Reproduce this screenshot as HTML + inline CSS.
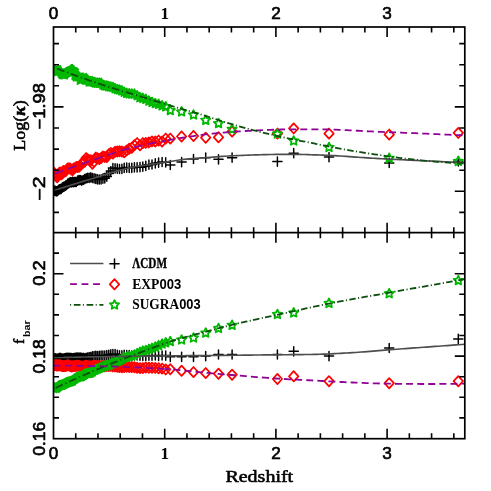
<!DOCTYPE html>
<html><head><meta charset="utf-8"><title>plot</title>
<style>html,body{margin:0;padding:0;background:#fff;}body{width:491px;height:491px;overflow:hidden;font-family:"Liberation Sans",sans-serif;}svg{display:block;will-change:transform;}</style></head>
<body>
<svg width="491" height="491" viewBox="0 0 491 491">
<rect width="491" height="491" fill="#ffffff"/>
<defs>
<clipPath id="ct"><rect x="53.5" y="27.0" width="411.3" height="205.7"/></clipPath>
<clipPath id="cb"><rect x="53.5" y="232.7" width="411.3" height="206.0"/></clipPath>
</defs>
<g clip-path="url(#ct)">
<path d="M48.9,190.9H58.1M53.5,186.3V195.5M49.8,190.6H59.0M54.4,186.0V195.2M50.7,190.8H59.9M55.3,186.2V195.4M51.7,191.4H60.9M56.3,186.8V196.0M52.6,191.1H61.8M57.2,186.5V195.7M53.6,190.3H62.8M58.2,185.7V194.9M54.6,189.4H63.8M59.2,184.8V194.0M55.6,189.1H64.8M60.2,184.5V193.7M56.6,188.8H65.8M61.2,184.2V193.4M57.6,187.7H66.8M62.2,183.1V192.3M58.7,186.9H67.9M63.3,182.3V191.5M59.8,186.5H69.0M64.4,181.9V191.1M60.9,185.7H70.1M65.5,181.1V190.3M62.0,185.0H71.2M66.6,180.4V189.6M63.1,183.6H72.3M67.7,179.0V188.2M64.3,183.2H73.5M68.9,178.6V187.8M65.5,182.2H74.7M70.1,177.6V186.8M66.7,182.3H75.9M71.3,177.7V186.9M67.9,181.8H77.1M72.5,177.2V186.4M69.1,182.1H78.3M73.7,177.5V186.7M70.4,181.9H79.6M75.0,177.3V186.5M71.7,182.0H80.9M76.3,177.4V186.6M73.0,180.7H82.2M77.6,176.1V185.3M74.4,180.2H83.6M79.0,175.6V184.8M75.7,180.0H84.9M80.3,175.4V184.6M77.1,180.7H86.3M81.7,176.1V185.3M78.6,180.0H87.8M83.2,175.4V184.6M80.0,179.2H89.2M84.6,174.6V183.8M81.5,178.3H90.7M86.1,173.7V182.9M83.0,177.9H92.2M87.6,173.3V182.5M84.6,177.9H93.8M89.2,173.3V182.5M86.2,177.4H95.4M90.8,172.8V182.0M87.8,178.0H97.0M92.4,173.4V182.6M89.5,178.3H98.7M94.1,173.7V182.9M91.2,178.9H100.4M95.8,174.3V183.5M92.9,179.4H102.1M97.5,174.8V184.0M94.7,179.5H103.9M99.3,174.9V184.1M96.5,179.4H105.7M101.1,174.8V184.0M98.3,178.7H107.5M102.9,174.1V183.3M100.2,178.3H109.4M104.8,173.7V182.9M102.2,176.6H111.4M106.8,172.0V181.2M104.2,173.6H113.4M108.8,169.0V178.2M106.2,171.0H115.4M110.8,166.4V175.6M108.3,168.0H117.5M112.9,163.4V172.6M110.5,168.3H119.7M115.1,163.7V172.9M112.7,168.7H121.9M117.3,164.1V173.3M114.9,169.0H124.1M119.5,164.4V173.6M117.3,168.8H126.5M121.9,164.2V173.4M119.6,167.9H128.8M124.2,163.3V172.5M122.1,167.6H131.3M126.7,163.0V172.2M124.6,167.8H133.8M129.2,163.2V172.4M127.2,167.8H136.4M131.8,163.2V172.4M129.8,167.3H139.0M134.4,162.7V171.9M132.5,167.3H141.7M137.1,162.7V171.9M135.4,167.2H144.6M140.0,162.6V171.8M138.2,166.6H147.4M142.8,162.0V171.2M141.2,165.9H150.4M145.8,161.3V170.5M144.3,164.7H153.5M148.9,160.1V169.3M147.4,164.5H156.6M152.0,159.9V169.1M150.7,163.4H159.9M155.3,158.8V168.0M154.0,162.7H163.2M158.6,158.1V167.3M157.5,162.0H166.7M162.1,157.4V166.6M161.1,162.3H170.3M165.7,157.7V166.9M165.7,165.0H174.9M170.3,160.4V169.6M177.0,162.1H186.2M181.6,157.5V166.7M188.9,159.0H198.1M193.5,154.4V163.6M201.1,157.7H210.3M205.7,153.1V162.3M213.9,159.3H223.1M218.5,154.7V163.9M227.5,157.7H236.7M232.1,153.1V162.3M272.8,161.6H282.0M277.4,157.0V166.2M289.1,153.2H298.3M293.7,148.6V157.8M324.4,157.1H333.6M329.0,152.5V161.7M384.6,163.0H393.8M389.2,158.4V167.6M453.7,161.3H462.9M458.3,156.7V165.9" stroke="#000000" stroke-width="1.5" fill="none" stroke-linejoin="miter" stroke-linecap="round"/>
<path d="M53.5,169.7L58.2,174.8L53.5,179.9L48.8,174.8ZM54.4,167.9L59.1,173.0L54.4,178.1L49.7,173.0ZM55.3,169.8L60.0,174.9L55.3,180.0L50.6,174.9ZM56.3,171.5L61.0,176.6L56.3,181.7L51.6,176.6ZM57.2,172.1L61.9,177.2L57.2,182.3L52.5,177.2ZM58.2,169.6L62.9,174.7L58.2,179.8L53.5,174.7ZM59.2,167.8L63.9,172.9L59.2,178.0L54.5,172.9ZM60.2,167.4L64.9,172.5L60.2,177.6L55.5,172.5ZM61.2,169.3L65.9,174.4L61.2,179.5L56.5,174.4ZM62.2,168.6L66.9,173.7L62.2,178.8L57.5,173.7ZM63.3,165.9L68.0,171.0L63.3,176.1L58.6,171.0ZM64.4,166.4L69.1,171.5L64.4,176.6L59.7,171.5ZM65.5,166.2L70.2,171.3L65.5,176.4L60.8,171.3ZM66.6,165.0L71.3,170.1L66.6,175.2L61.9,170.1ZM67.7,163.3L72.4,168.4L67.7,173.5L63.0,168.4ZM68.9,163.1L73.6,168.2L68.9,173.3L64.2,168.2ZM70.1,163.4L74.8,168.5L70.1,173.6L65.4,168.5ZM71.3,164.4L76.0,169.5L71.3,174.6L66.6,169.5ZM72.5,165.3L77.2,170.4L72.5,175.5L67.8,170.4ZM73.7,163.3L78.4,168.4L73.7,173.5L69.0,168.4ZM75.0,162.8L79.7,167.9L75.0,173.0L70.3,167.9ZM76.3,161.8L81.0,166.9L76.3,172.0L71.6,166.9ZM77.6,161.8L82.3,166.9L77.6,172.0L72.9,166.9ZM79.0,161.7L83.7,166.8L79.0,171.9L74.3,166.8ZM80.3,160.5L85.0,165.6L80.3,170.7L75.6,165.6ZM81.7,158.4L86.4,163.5L81.7,168.6L77.0,163.5ZM83.2,157.6L87.9,162.7L83.2,167.8L78.5,162.7ZM84.6,156.6L89.3,161.7L84.6,166.8L79.9,161.7ZM86.1,153.0L90.8,158.1L86.1,163.2L81.4,158.1ZM87.6,154.2L92.3,159.3L87.6,164.4L82.9,159.3ZM89.2,155.1L93.9,160.2L89.2,165.3L84.5,160.2ZM90.8,155.2L95.5,160.3L90.8,165.4L86.1,160.3ZM92.4,158.6L97.1,163.7L92.4,168.8L87.7,163.7ZM94.1,156.7L98.8,161.8L94.1,166.9L89.4,161.8ZM95.8,152.5L100.5,157.6L95.8,162.7L91.1,157.6ZM97.5,153.2L102.2,158.3L97.5,163.4L92.8,158.3ZM99.3,154.0L104.0,159.1L99.3,164.2L94.6,159.1ZM101.1,152.9L105.8,158.0L101.1,163.1L96.4,158.0ZM102.9,151.3L107.6,156.4L102.9,161.5L98.2,156.4ZM104.8,151.8L109.5,156.9L104.8,162.0L100.1,156.9ZM106.8,152.0L111.5,157.1L106.8,162.2L102.1,157.1ZM108.8,149.2L113.5,154.3L108.8,159.4L104.1,154.3ZM110.8,147.8L115.5,152.9L110.8,158.0L106.1,152.9ZM112.9,148.5L117.6,153.6L112.9,158.7L108.2,153.6ZM115.1,146.7L119.8,151.8L115.1,156.9L110.4,151.8ZM117.3,146.4L122.0,151.5L117.3,156.6L112.6,151.5ZM119.5,146.1L124.2,151.2L119.5,156.3L114.8,151.2ZM121.9,146.4L126.6,151.5L121.9,156.6L117.2,151.5ZM124.2,147.2L128.9,152.3L124.2,157.4L119.5,152.3ZM126.7,145.3L131.4,150.4L126.7,155.5L122.0,150.4ZM129.2,143.6L133.9,148.7L129.2,153.8L124.5,148.7ZM131.8,142.6L136.5,147.7L131.8,152.8L127.1,147.7ZM134.4,140.1L139.1,145.2L134.4,150.3L129.7,145.2ZM137.1,138.0L141.8,143.1L137.1,148.2L132.4,143.1ZM140.0,140.2L144.7,145.3L140.0,150.4L135.3,145.3ZM142.8,138.0L147.5,143.1L142.8,148.2L138.1,143.1ZM145.8,137.8L150.5,142.9L145.8,148.0L141.1,142.9ZM148.9,137.3L153.6,142.4L148.9,147.5L144.2,142.4ZM152.0,136.3L156.7,141.4L152.0,146.5L147.3,141.4ZM155.3,136.4L160.0,141.5L155.3,146.6L150.6,141.5ZM158.6,135.5L163.3,140.6L158.6,145.7L153.9,140.6ZM162.1,136.4L166.8,141.5L162.1,146.6L157.4,141.5ZM165.7,133.5L170.4,138.6L165.7,143.7L161.0,138.6ZM170.3,133.5L175.0,138.6L170.3,143.7L165.6,138.6ZM181.6,131.4L186.3,136.5L181.6,141.6L176.9,136.5ZM193.5,130.9L198.2,136.0L193.5,141.1L188.8,136.0ZM205.7,132.6L210.4,137.7L205.7,142.8L201.0,137.7ZM218.5,132.2L223.2,137.3L218.5,142.4L213.8,137.3ZM232.1,126.5L236.8,131.6L232.1,136.7L227.4,131.6ZM277.4,128.5L282.1,133.6L277.4,138.7L272.7,133.6ZM293.7,123.3L298.4,128.4L293.7,133.5L289.0,128.4ZM329.0,128.5L333.7,133.6L329.0,138.7L324.3,133.6ZM389.2,129.5L393.9,134.6L389.2,139.7L384.5,134.6ZM458.3,127.8L463.0,132.9L458.3,138.0L453.6,132.9Z" stroke="#ff0000" stroke-width="1.7" fill="none" stroke-linejoin="round" stroke-linecap="round"/>
<path d="M53.5,65.1L54.9,68.0L58.1,68.4L55.8,70.7L56.3,73.8L53.5,72.3L50.7,73.8L51.2,70.7L48.9,68.4L52.1,68.0ZM54.4,64.7L55.8,67.5L59.0,68.0L56.7,70.2L57.2,73.4L54.4,71.9L51.6,73.4L52.1,70.2L49.8,68.0L53.0,67.5ZM55.3,66.4L56.7,69.3L59.9,69.7L57.6,71.9L58.2,75.1L55.3,73.6L52.5,75.1L53.0,71.9L50.8,69.7L53.9,69.3ZM56.3,67.2L57.7,70.1L60.8,70.5L58.6,72.7L59.1,75.9L56.3,74.4L53.4,75.9L54.0,72.7L51.7,70.5L54.9,70.1ZM57.2,66.3L58.6,69.1L61.8,69.6L59.5,71.8L60.0,75.0L57.2,73.5L54.4,75.0L54.9,71.8L52.7,69.6L55.8,69.1ZM58.2,66.4L59.6,69.2L62.8,69.7L60.5,71.9L61.0,75.0L58.2,73.6L55.4,75.0L55.9,71.9L53.6,69.7L56.8,69.2ZM59.2,66.1L60.6,68.9L63.7,69.4L61.5,71.6L62.0,74.8L59.2,73.3L56.4,74.8L56.9,71.6L54.6,69.4L57.8,68.9ZM60.2,65.9L61.6,68.8L64.7,69.2L62.5,71.4L63.0,74.6L60.2,73.1L57.4,74.6L57.9,71.4L55.6,69.2L58.8,68.8ZM61.2,68.2L62.6,71.0L65.8,71.5L63.5,73.7L64.0,76.8L61.2,75.4L58.4,76.8L58.9,73.7L56.6,71.5L59.8,71.0ZM62.2,69.6L63.7,72.4L66.8,72.9L64.5,75.1L65.1,78.3L62.2,76.8L59.4,78.3L60.0,75.1L57.7,72.9L60.8,72.4ZM63.3,69.5L64.7,72.4L67.9,72.8L65.6,75.0L66.1,78.2L63.3,76.7L60.5,78.2L61.0,75.0L58.7,72.8L61.9,72.4ZM64.4,69.9L65.8,72.8L68.9,73.2L66.7,75.4L67.2,78.6L64.4,77.1L61.6,78.6L62.1,75.4L59.8,73.2L63.0,72.8ZM65.5,68.4L66.9,71.2L70.0,71.7L67.8,73.9L68.3,77.0L65.5,75.6L62.7,77.0L63.2,73.9L60.9,71.7L64.1,71.2ZM66.6,67.7L68.0,70.6L71.2,71.1L68.9,73.3L69.4,76.4L66.6,74.9L63.8,76.4L64.3,73.3L62.0,71.1L65.2,70.6ZM67.7,67.2L69.1,70.0L72.3,70.5L70.0,72.7L70.5,75.9L67.7,74.4L64.9,75.9L65.4,72.7L63.2,70.5L66.3,70.0ZM68.9,66.8L70.3,69.7L73.4,70.1L71.2,72.3L71.7,75.5L68.9,74.0L66.1,75.5L66.6,72.3L64.3,70.1L67.5,69.7ZM70.1,66.2L71.5,69.0L74.6,69.5L72.3,71.7L72.9,74.8L70.1,73.4L67.2,74.8L67.8,71.7L65.5,69.5L68.6,69.0ZM71.3,64.9L72.7,67.7L75.8,68.2L73.5,70.4L74.1,73.5L71.3,72.1L68.4,73.5L69.0,70.4L66.7,68.2L69.8,67.7ZM72.5,64.8L73.9,67.6L77.0,68.1L74.8,70.3L75.3,73.5L72.5,72.0L69.7,73.5L70.2,70.3L67.9,68.1L71.1,67.6ZM73.7,66.0L75.1,68.9L78.3,69.3L76.0,71.5L76.5,74.7L73.7,73.2L70.9,74.7L71.4,71.5L69.2,69.3L72.3,68.9ZM75.0,70.6L76.4,73.4L79.6,73.9L77.3,76.1L77.8,79.2L75.0,77.8L72.2,79.2L72.7,76.1L70.4,73.9L73.6,73.4ZM76.3,72.0L77.7,74.9L80.9,75.3L78.6,77.6L79.1,80.7L76.3,79.2L73.5,80.7L74.0,77.6L71.7,75.3L74.9,74.9ZM77.6,70.3L79.0,73.2L82.2,73.6L79.9,75.9L80.4,79.0L77.6,77.5L74.8,79.0L75.3,75.9L73.0,73.6L76.2,73.2ZM79.0,72.1L80.4,75.0L83.5,75.4L81.2,77.7L81.8,80.8L79.0,79.3L76.1,80.8L76.7,77.7L74.4,75.4L77.5,75.0ZM80.3,75.3L81.7,78.2L84.9,78.6L82.6,80.8L83.2,84.0L80.3,82.5L77.5,84.0L78.1,80.8L75.8,78.6L78.9,78.2ZM81.7,74.3L83.1,77.2L86.3,77.7L84.0,79.9L84.6,83.0L81.7,81.5L78.9,83.0L79.5,79.9L77.2,77.7L80.3,77.2ZM83.2,73.3L84.6,76.2L87.7,76.6L85.4,78.9L86.0,82.0L83.2,80.5L80.3,82.0L80.9,78.9L78.6,76.6L81.8,76.2ZM84.6,74.5L86.0,77.3L89.2,77.8L86.9,80.0L87.4,83.2L84.6,81.7L81.8,83.2L82.3,80.0L80.1,77.8L83.2,77.3ZM86.1,73.6L87.5,76.4L90.7,76.9L88.4,79.1L88.9,82.3L86.1,80.8L83.3,82.3L83.8,79.1L81.6,76.9L84.7,76.4ZM87.6,75.2L89.1,78.0L92.2,78.5L89.9,80.7L90.5,83.9L87.6,82.4L84.8,83.9L85.4,80.7L83.1,78.5L86.2,78.0ZM89.2,77.0L90.6,79.8L93.8,80.3L91.5,82.5L92.0,85.7L89.2,84.2L86.4,85.7L86.9,82.5L84.6,80.3L87.8,79.8ZM90.8,76.9L92.2,79.7L95.3,80.2L93.1,82.4L93.6,85.6L90.8,84.1L88.0,85.6L88.5,82.4L86.2,80.2L89.4,79.7ZM92.4,76.8L93.8,79.7L97.0,80.1L94.7,82.3L95.2,85.5L92.4,84.0L89.6,85.5L90.1,82.3L87.8,80.1L91.0,79.7ZM94.1,77.6L95.5,80.4L98.6,80.9L96.3,83.1L96.9,86.2L94.1,84.8L91.2,86.2L91.8,83.1L89.5,80.9L92.7,80.4ZM95.8,78.2L97.2,81.0L100.3,81.5L98.0,83.7L98.6,86.8L95.8,85.4L92.9,86.8L93.5,83.7L91.2,81.5L94.4,81.0ZM97.5,78.3L98.9,81.1L102.1,81.6L99.8,83.8L100.3,87.0L97.5,85.5L94.7,87.0L95.2,83.8L92.9,81.6L96.1,81.1ZM99.3,78.4L100.7,81.3L103.8,81.8L101.6,84.0L102.1,87.1L99.3,85.6L96.5,87.1L97.0,84.0L94.7,81.8L97.9,81.3ZM101.1,78.4L102.5,81.3L105.7,81.7L103.4,83.9L103.9,87.1L101.1,85.6L98.3,87.1L98.8,83.9L96.5,81.7L99.7,81.3ZM102.9,80.2L104.4,83.1L107.5,83.5L105.2,85.8L105.8,88.9L102.9,87.4L100.1,88.9L100.7,85.8L98.4,83.5L101.5,83.1ZM104.8,81.0L106.3,83.9L109.4,84.4L107.1,86.6L107.7,89.7L104.8,88.2L102.0,89.7L102.6,86.6L100.3,84.4L103.4,83.9ZM106.8,81.1L108.2,83.9L111.4,84.4L109.1,86.6L109.6,89.8L106.8,88.3L104.0,89.8L104.5,86.6L102.2,84.4L105.4,83.9ZM108.8,81.8L110.2,84.7L113.4,85.1L111.1,87.3L111.6,90.5L108.8,89.0L106.0,90.5L106.5,87.3L104.2,85.1L107.4,84.7ZM110.8,82.1L112.2,84.9L115.4,85.4L113.1,87.6L113.7,90.8L110.8,89.3L108.0,90.8L108.6,87.6L106.3,85.4L109.4,84.9ZM112.9,82.6L114.3,85.5L117.5,85.9L115.2,88.1L115.8,91.3L112.9,89.8L110.1,91.3L110.6,88.1L108.4,85.9L111.5,85.5ZM115.1,83.8L116.5,86.7L119.6,87.1L117.4,89.4L117.9,92.5L115.1,91.0L112.3,92.5L112.8,89.4L110.5,87.1L113.7,86.7ZM117.3,84.7L118.7,87.5L121.8,88.0L119.6,90.2L120.1,93.3L117.3,91.9L114.5,93.3L115.0,90.2L112.7,88.0L115.9,87.5ZM119.5,85.1L121.0,87.9L124.1,88.4L121.8,90.6L122.4,93.8L119.5,92.3L116.7,93.8L117.3,90.6L115.0,88.4L118.1,87.9ZM121.9,86.0L123.3,88.8L126.4,89.3L124.1,91.5L124.7,94.7L121.9,93.2L119.0,94.7L119.6,91.5L117.3,89.3L120.4,88.8ZM124.2,87.4L125.6,90.2L128.8,90.7L126.5,92.9L127.1,96.0L124.2,94.6L121.4,96.0L122.0,92.9L119.7,90.7L122.8,90.2ZM126.7,88.5L128.1,91.3L131.2,91.8L129.0,94.0L129.5,97.1L126.7,95.7L123.9,97.1L124.4,94.0L122.1,91.8L125.3,91.3ZM129.2,88.9L130.6,91.8L133.8,92.2L131.5,94.5L132.0,97.6L129.2,96.1L126.4,97.6L126.9,94.5L124.6,92.2L127.8,91.8ZM131.8,89.2L133.2,92.1L136.3,92.5L134.1,94.7L134.6,97.9L131.8,96.4L128.9,97.9L129.5,94.7L127.2,92.5L130.4,92.1ZM134.4,89.3L135.8,92.1L139.0,92.6L136.7,94.8L137.2,98.0L134.4,96.5L131.6,98.0L132.1,94.8L129.9,92.6L133.0,92.1ZM137.1,90.9L138.6,93.7L141.7,94.2L139.4,96.4L140.0,99.5L137.1,98.1L134.3,99.5L134.9,96.4L132.6,94.2L135.7,93.7ZM140.0,92.8L141.4,95.7L144.5,96.1L142.2,98.4L142.8,101.5L140.0,100.0L137.1,101.5L137.7,98.4L135.4,96.1L138.5,95.7ZM142.8,93.5L144.3,96.4L147.4,96.8L145.1,99.1L145.7,102.2L142.8,100.7L140.0,102.2L140.6,99.1L138.3,96.8L141.4,96.4ZM145.8,94.5L147.2,97.4L150.4,97.9L148.1,100.1L148.6,103.2L145.8,101.7L143.0,103.2L143.5,100.1L141.2,97.9L144.4,97.4ZM148.9,96.2L150.3,99.0L153.4,99.5L151.2,101.7L151.7,104.9L148.9,103.4L146.1,104.9L146.6,101.7L144.3,99.5L147.5,99.0ZM152.0,97.5L153.4,100.4L156.6,100.8L154.3,103.0L154.9,106.2L152.0,104.7L149.2,106.2L149.7,103.0L147.5,100.8L150.6,100.4ZM155.3,98.7L156.7,101.6L159.9,102.1L157.6,104.3L158.1,107.4L155.3,105.9L152.5,107.4L153.0,104.3L150.7,102.1L153.9,101.6ZM158.6,99.4L160.1,102.3L163.2,102.7L160.9,105.0L161.5,108.1L158.6,106.6L155.8,108.1L156.4,105.0L154.1,102.7L157.2,102.3ZM162.1,100.9L163.5,103.8L166.7,104.2L164.4,106.5L164.9,109.6L162.1,108.1L159.3,109.6L159.8,106.5L157.5,104.2L160.7,103.8ZM165.7,101.9L167.1,104.7L170.2,105.2L168.0,107.4L168.5,110.6L165.7,109.1L162.9,110.6L163.4,107.4L161.1,105.2L164.3,104.7ZM170.3,105.7L171.7,108.6L174.9,109.0L172.6,111.2L173.1,114.4L170.3,112.9L167.5,114.4L168.0,111.2L165.7,109.0L168.9,108.6ZM181.6,107.0L183.0,109.9L186.2,110.3L183.9,112.5L184.4,115.7L181.6,114.2L178.8,115.7L179.3,112.5L177.0,110.3L180.2,109.9ZM193.5,110.1L194.9,113.0L198.1,113.4L195.8,115.6L196.3,118.8L193.5,117.3L190.7,118.8L191.2,115.6L188.9,113.4L192.1,113.0ZM205.7,115.4L207.1,118.3L210.3,118.7L208.0,120.9L208.5,124.1L205.7,122.6L202.9,124.1L203.4,120.9L201.1,118.7L204.3,118.3ZM218.5,118.7L219.9,121.6L223.1,122.0L220.8,124.2L221.3,127.4L218.5,125.9L215.7,127.4L216.2,124.2L213.9,122.0L217.1,121.6ZM232.1,124.4L233.5,127.3L236.7,127.7L234.4,129.9L234.9,133.1L232.1,131.6L229.3,133.1L229.8,129.9L227.5,127.7L230.7,127.3ZM277.4,129.1L278.8,132.0L282.0,132.4L279.7,134.6L280.2,137.8L277.4,136.3L274.6,137.8L275.1,134.6L272.8,132.4L276.0,132.0ZM293.7,136.1L295.1,139.0L298.3,139.4L296.0,141.6L296.5,144.8L293.7,143.3L290.9,144.8L291.4,141.6L289.1,139.4L292.3,139.0ZM329.0,142.6L330.4,145.5L333.6,145.9L331.3,148.1L331.8,151.3L329.0,149.8L326.2,151.3L326.7,148.1L324.4,145.9L327.6,145.5ZM389.2,153.4L390.6,156.3L393.8,156.7L391.5,158.9L392.0,162.1L389.2,160.6L386.4,162.1L386.9,158.9L384.6,156.7L387.8,156.3ZM458.3,156.5L459.7,159.4L462.9,159.8L460.6,162.0L461.1,165.2L458.3,163.7L455.5,165.2L456.0,162.0L453.7,159.8L456.9,159.4Z" stroke="#00b800" stroke-width="1.8" fill="none" stroke-linejoin="round" stroke-linecap="round"/>
<path d="M53.50,190.70 L56.46,189.74 L59.42,188.78 L62.38,187.83 L65.34,186.89 L68.29,185.95 L71.25,185.02 L74.21,184.10 L77.17,183.18 L80.13,182.26 L83.09,181.35 L86.05,180.45 L89.01,179.56 L91.97,178.68 L94.93,177.80 L97.88,176.91 L100.84,176.00 L103.80,175.07 L106.76,174.14 L109.72,173.21 L112.68,172.31 L115.64,171.45 L118.60,170.59 L121.56,169.74 L124.52,168.94 L127.47,168.20 L130.43,167.57 L133.39,167.03 L136.35,166.53 L139.31,166.08 L142.27,165.65 L145.23,165.23 L148.19,164.81 L151.15,164.37 L154.11,163.92 L157.06,163.46 L160.02,163.01 L162.98,162.56 L165.94,162.11 L168.90,161.67 L171.86,161.21 L174.82,160.73 L177.78,160.24 L180.74,159.79 L183.70,159.40 L186.65,159.09 L189.61,158.82 L192.57,158.57 L195.53,158.34 L198.49,158.12 L201.45,157.91 L204.41,157.71 L207.37,157.49 L210.33,157.28 L213.29,157.06 L216.24,156.84 L219.20,156.63 L222.16,156.43 L225.12,156.23 L228.08,156.05 L231.04,155.87 L234.00,155.72 L236.96,155.58 L239.92,155.46 L242.88,155.34 L245.83,155.22 L248.79,155.11 L251.75,155.00 L254.71,154.90 L257.67,154.81 L260.63,154.72 L263.59,154.65 L266.55,154.58 L269.51,154.52 L272.47,154.48 L275.42,154.43 L278.38,154.39 L281.34,154.35 L284.30,154.33 L287.26,154.31 L290.22,154.30 L293.18,154.31 L296.14,154.34 L299.10,154.39 L302.06,154.46 L305.01,154.53 L307.97,154.62 L310.93,154.71 L313.89,154.81 L316.85,154.91 L319.81,155.00 L322.77,155.11 L325.73,155.23 L328.69,155.37 L331.65,155.52 L334.60,155.69 L337.56,155.86 L340.52,156.05 L343.48,156.24 L346.44,156.44 L349.40,156.65 L352.36,156.85 L355.32,157.06 L358.28,157.27 L361.24,157.48 L364.19,157.68 L367.15,157.88 L370.11,158.07 L373.07,158.26 L376.03,158.43 L378.99,158.60 L381.95,158.76 L384.91,158.91 L387.87,159.06 L390.83,159.21 L393.78,159.36 L396.74,159.50 L399.70,159.65 L402.66,159.79 L405.62,159.93 L408.58,160.07 L411.54,160.21 L414.50,160.34 L417.46,160.48 L420.42,160.62 L423.37,160.76 L426.33,160.89 L429.29,161.03 L432.25,161.17 L435.21,161.30 L438.17,161.43 L441.13,161.57 L444.09,161.70 L447.05,161.83 L450.01,161.96 L452.96,162.09 L455.92,162.22 L458.88,162.35 L461.84,162.47 L464.80,162.60" stroke="#4d4d4d" stroke-width="1.65" fill="none"/>
<path d="M53.50,174.00 L55.41,173.32 L57.31,172.63 L59.22,171.95 L61.13,171.27 L63.03,170.59 L64.94,169.91 L66.85,169.24 L68.75,168.56 L70.66,167.89 L72.57,167.22 L74.47,166.54 L76.38,165.88 L78.29,165.21 L80.19,164.54 L82.10,163.88 L84.01,163.21 L85.92,162.55 L87.82,161.88 L89.73,161.22 L91.64,160.56 L93.54,159.90 L95.45,159.24 L97.36,158.59 L99.26,157.93 L101.17,157.28 L103.08,156.63 L104.98,155.99 L106.89,155.34 L108.80,154.70 L110.70,154.06 L112.61,153.42 L114.52,152.76 L116.42,152.11 L118.33,151.47 L120.24,150.84 L122.14,150.24 L124.05,149.68 L125.96,149.16 L127.86,148.66 L129.77,148.18 L131.68,147.73 L133.58,147.28 L135.49,146.85 L137.40,146.42 L139.31,145.99 L141.21,145.56 L143.12,145.14 L145.03,144.72 L146.93,144.30 L148.84,143.89 L150.75,143.49 L152.65,143.10 L154.56,142.72 L156.47,142.36 L158.37,142.01 L160.28,141.66 L162.19,141.33 L164.09,141.00 L166.00,140.66" stroke="#900096" stroke-width="1.8" fill="none" stroke-dasharray="8.77,5.13" stroke-dashoffset="12.41"/>
<path d="M166.00,140.66 L168.74,140.18 L171.48,139.68 L174.22,139.18 L176.97,138.68 L179.71,138.20 L182.45,137.74 L185.19,137.31 L187.93,136.90 L190.67,136.48 L193.41,136.08 L196.15,135.68 L198.90,135.29 L201.64,134.92 L204.38,134.55 L207.12,134.20 L209.86,133.87 L212.60,133.56 L215.34,133.27 L218.08,133.01 L220.83,132.77 L223.57,132.54 L226.31,132.32 L229.05,132.10 L231.79,131.90 L234.53,131.71 L237.27,131.52 L240.01,131.35 L242.76,131.18 L245.50,131.02 L248.24,130.88 L250.98,130.74 L253.72,130.61 L256.46,130.48 L259.20,130.35 L261.94,130.22 L264.69,130.09 L267.43,129.96 L270.17,129.85 L272.91,129.74 L275.65,129.64 L278.39,129.55 L281.13,129.48 L283.88,129.43 L286.62,129.41 L289.36,129.40 L292.10,129.40 L294.84,129.40 L297.58,129.40 L300.32,129.40 L303.06,129.40 L305.81,129.40 L308.55,129.40 L311.29,129.40 L314.03,129.40 L316.77,129.40 L319.51,129.40 L322.25,129.41 L324.99,129.44 L327.74,129.48 L330.48,129.55 L333.22,129.62 L335.96,129.71 L338.70,129.82 L341.44,129.93 L344.18,130.05 L346.92,130.18 L349.67,130.32 L352.41,130.46 L355.15,130.61 L357.89,130.76 L360.63,130.90 L363.37,131.05 L366.11,131.20 L368.86,131.34 L371.60,131.47 L374.34,131.60 L377.08,131.72 L379.82,131.83 L382.56,131.94 L385.30,132.05 L388.04,132.15 L390.79,132.26 L393.53,132.36 L396.27,132.46 L399.01,132.57 L401.75,132.67 L404.49,132.78 L407.23,132.88 L409.97,132.99 L412.72,133.10 L415.46,133.21 L418.20,133.32 L420.94,133.44 L423.68,133.56 L426.42,133.68 L429.16,133.80 L431.90,133.92 L434.65,134.04 L437.39,134.17 L440.13,134.30 L442.87,134.42 L445.61,134.55 L448.35,134.69 L451.09,134.82 L453.83,134.95 L456.58,135.09 L459.32,135.22 L462.06,135.36 L464.80,135.50" stroke="#900096" stroke-width="1.8" fill="none" stroke-dasharray="7.00,4.10" stroke-dashoffset="9.32"/>
<path d="M53.50,67.20 L55.41,67.95 L57.31,68.69 L59.22,69.42 L61.13,70.15 L63.03,70.88 L64.94,71.60 L66.85,72.31 L68.75,73.02 L70.66,73.73 L72.57,74.43 L74.47,75.13 L76.38,75.82 L78.29,76.50 L80.19,77.19 L82.10,77.87 L84.01,78.54 L85.92,79.21 L87.82,79.87 L89.73,80.53 L91.64,81.19 L93.54,81.84 L95.45,82.49 L97.36,83.13 L99.26,83.77 L101.17,84.41 L103.08,85.04 L104.98,85.67 L106.89,86.29 L108.80,86.91 L110.70,87.53 L112.61,88.13 L114.52,88.73 L116.42,89.31 L118.33,89.89 L120.24,90.46 L122.14,91.03 L124.05,91.59 L125.96,92.15 L127.86,92.71 L129.77,93.27 L131.68,93.83 L133.58,94.39 L135.49,94.95 L137.40,95.52 L139.31,96.09 L141.21,96.67 L143.12,97.25 L145.03,97.84 L146.93,98.42 L148.84,99.01 L150.75,99.60 L152.65,100.19 L154.56,100.78 L156.47,101.37 L158.37,101.96 L160.28,102.55 L162.19,103.13 L164.09,103.72 L166.00,104.30" stroke="#0e4e0e" stroke-width="1.8" fill="none" stroke-dasharray="7.66,2.83,1.30,2.71" stroke-dashoffset="10.54"/>
<path d="M166.00,104.30 L168.74,105.12 L171.48,105.94 L174.22,106.75 L176.97,107.55 L179.71,108.34 L182.45,109.12 L185.19,109.91 L187.93,110.69 L190.67,111.48 L193.41,112.27 L196.15,113.07 L198.90,113.87 L201.64,114.69 L204.38,115.52 L207.12,116.37 L209.86,117.24 L212.60,118.12 L215.34,119.00 L218.08,119.88 L220.83,120.76 L223.57,121.64 L226.31,122.51 L229.05,123.36 L231.79,124.19 L234.53,125.01 L237.27,125.79 L240.01,126.56 L242.76,127.33 L245.50,128.08 L248.24,128.82 L250.98,129.56 L253.72,130.28 L256.46,130.99 L259.20,131.69 L261.94,132.38 L264.69,133.05 L267.43,133.71 L270.17,134.36 L272.91,134.99 L275.65,135.61 L278.39,136.22 L281.13,136.82 L283.88,137.40 L286.62,137.98 L289.36,138.55 L292.10,139.11 L294.84,139.66 L297.58,140.21 L300.32,140.76 L303.06,141.30 L305.81,141.84 L308.55,142.39 L311.29,142.93 L314.03,143.47 L316.77,144.01 L319.51,144.56 L322.25,145.12 L324.99,145.67 L327.74,146.23 L330.48,146.79 L333.22,147.34 L335.96,147.88 L338.70,148.41 L341.44,148.93 L344.18,149.43 L346.92,149.91 L349.67,150.38 L352.41,150.85 L355.15,151.31 L357.89,151.76 L360.63,152.20 L363.37,152.64 L366.11,153.07 L368.86,153.49 L371.60,153.91 L374.34,154.32 L377.08,154.72 L379.82,155.12 L382.56,155.52 L385.30,155.91 L388.04,156.31 L390.79,156.70 L393.53,157.09 L396.27,157.47 L399.01,157.84 L401.75,158.20 L404.49,158.54 L407.23,158.87 L409.97,159.19 L412.72,159.48 L415.46,159.76 L418.20,160.03 L420.94,160.29 L423.68,160.55 L426.42,160.81 L429.16,161.06 L431.90,161.31 L434.65,161.54 L437.39,161.78 L440.13,162.00 L442.87,162.22 L445.61,162.42 L448.35,162.62 L451.09,162.81 L453.83,162.99 L456.58,163.16 L459.32,163.32 L462.06,163.47 L464.80,163.60" stroke="#0e4e0e" stroke-width="1.8" fill="none" stroke-dasharray="6.50,2.40,1.10,2.30" stroke-dashoffset="9.77"/>
</g>
<g clip-path="url(#cb)">
<path d="M48.9,358.6H58.1M53.5,354.0V363.2M49.8,358.5H59.0M54.4,353.9V363.1M50.7,358.4H59.9M55.3,353.8V363.0M51.7,358.8H60.9M56.3,354.2V363.4M52.6,358.7H61.8M57.2,354.1V363.3M53.6,358.6H62.8M58.2,354.0V363.2M54.6,358.1H63.8M59.2,353.5V362.7M55.6,357.9H64.8M60.2,353.3V362.5M56.6,358.3H65.8M61.2,353.7V362.9M57.6,358.6H66.8M62.2,354.0V363.2M58.7,358.5H67.9M63.3,353.9V363.1M59.8,358.3H69.0M64.4,353.7V362.9M60.9,358.0H70.1M65.5,353.4V362.6M62.0,357.9H71.2M66.6,353.3V362.5M63.1,357.8H72.3M67.7,353.2V362.4M64.3,357.8H73.5M68.9,353.2V362.4M65.5,357.9H74.7M70.1,353.3V362.5M66.7,358.0H75.9M71.3,353.4V362.6M67.9,358.4H77.1M72.5,353.8V363.0M69.1,358.1H78.3M73.7,353.5V362.7M70.4,357.9H79.6M75.0,353.3V362.5M71.7,357.6H80.9M76.3,353.0V362.2M73.0,357.5H82.2M77.6,352.9V362.1M74.4,357.7H83.6M79.0,353.1V362.3M75.7,357.7H84.9M80.3,353.1V362.3M77.1,357.9H86.3M81.7,353.3V362.5M78.6,357.8H87.8M83.2,353.2V362.4M80.0,358.4H89.2M84.6,353.8V363.0M81.5,357.8H90.7M86.1,353.2V362.4M83.0,357.7H92.2M87.6,353.1V362.3M84.6,357.1H93.8M89.2,352.5V361.7M86.2,357.1H95.4M90.8,352.5V361.7M87.8,356.4H97.0M92.4,351.8V361.0M89.5,356.0H98.7M94.1,351.4V360.6M91.2,355.9H100.4M95.8,351.3V360.5M92.9,356.0H102.1M97.5,351.4V360.6M94.7,355.8H103.9M99.3,351.2V360.4M96.5,355.5H105.7M101.1,350.9V360.1M98.3,355.7H107.5M102.9,351.1V360.3M100.2,355.7H109.4M104.8,351.1V360.3M102.2,355.2H111.4M106.8,350.6V359.8M104.2,354.8H113.4M108.8,350.2V359.4M106.2,354.4H115.4M110.8,349.8V359.0M108.3,354.1H117.5M112.9,349.5V358.7M110.5,354.1H119.7M115.1,349.5V358.7M112.7,354.8H121.9M117.3,350.2V359.4M114.9,355.4H124.1M119.5,350.8V360.0M117.3,355.3H126.5M121.9,350.7V359.9M119.6,354.8H128.8M124.2,350.2V359.4M122.1,355.0H131.3M126.7,350.4V359.6M124.6,355.2H133.8M129.2,350.6V359.8M127.2,355.5H136.4M131.8,350.9V360.1M129.8,355.3H139.0M134.4,350.7V359.9M132.5,355.4H141.7M137.1,350.8V360.0M135.4,355.6H144.6M140.0,351.0V360.2M138.2,355.8H147.4M142.8,351.2V360.4M141.2,356.0H150.4M145.8,351.4V360.6M144.3,355.7H153.5M148.9,351.1V360.3M147.4,355.7H156.6M152.0,351.1V360.3M150.7,355.5H159.9M155.3,350.9V360.1M154.0,355.9H163.2M158.6,351.3V360.5M157.5,355.5H166.7M162.1,350.9V360.1M161.1,355.6H170.3M165.7,351.0V360.2M165.7,356.8H174.9M170.3,352.2V361.4M177.0,356.8H186.2M181.6,352.2V361.4M188.9,356.8H198.1M193.5,352.2V361.4M201.1,356.1H210.3M205.7,351.5V360.7M213.9,354.5H223.1M218.5,349.9V359.1M227.5,354.5H236.7M232.1,349.9V359.1M272.8,354.5H282.0M277.4,349.9V359.1M289.1,351.3H298.3M293.7,346.7V355.9M324.4,356.1H333.6M329.0,351.5V360.7M384.6,348.0H393.8M389.2,343.4V352.6M453.7,338.9H462.9M458.3,334.3V343.5" stroke="#000000" stroke-width="1.5" fill="none" stroke-linejoin="miter" stroke-linecap="round"/>
<path d="M53.5,360.7L58.2,365.8L53.5,370.9L48.8,365.8ZM54.4,360.1L59.1,365.2L54.4,370.3L49.7,365.2ZM55.3,360.0L60.0,365.1L55.3,370.2L50.6,365.1ZM56.3,359.9L61.0,365.0L56.3,370.1L51.6,365.0ZM57.2,360.6L61.9,365.7L57.2,370.8L52.5,365.7ZM58.2,360.2L62.9,365.3L58.2,370.4L53.5,365.3ZM59.2,360.2L63.9,365.3L59.2,370.4L54.5,365.3ZM60.2,360.1L64.9,365.2L60.2,370.3L55.5,365.2ZM61.2,360.7L65.9,365.8L61.2,370.9L56.5,365.8ZM62.2,360.9L66.9,366.0L62.2,371.1L57.5,366.0ZM63.3,360.9L68.0,366.0L63.3,371.1L58.6,366.0ZM64.4,361.0L69.1,366.1L64.4,371.2L59.7,366.1ZM65.5,360.8L70.2,365.9L65.5,371.0L60.8,365.9ZM66.6,360.7L71.3,365.8L66.6,370.9L61.9,365.8ZM67.7,359.9L72.4,365.0L67.7,370.1L63.0,365.0ZM68.9,360.4L73.6,365.5L68.9,370.6L64.2,365.5ZM70.1,360.8L74.8,365.9L70.1,371.0L65.4,365.9ZM71.3,361.5L76.0,366.6L71.3,371.7L66.6,366.6ZM72.5,361.2L77.2,366.3L72.5,371.4L67.8,366.3ZM73.7,361.0L78.4,366.1L73.7,371.2L69.0,366.1ZM75.0,360.9L79.7,366.0L75.0,371.1L70.3,366.0ZM76.3,360.7L81.0,365.8L76.3,370.9L71.6,365.8ZM77.6,360.6L82.3,365.7L77.6,370.8L72.9,365.7ZM79.0,360.6L83.7,365.7L79.0,370.8L74.3,365.7ZM80.3,361.1L85.0,366.2L80.3,371.3L75.6,366.2ZM81.7,361.3L86.4,366.4L81.7,371.5L77.0,366.4ZM83.2,361.3L87.9,366.4L83.2,371.5L78.5,366.4ZM84.6,360.8L89.3,365.9L84.6,371.0L79.9,365.9ZM86.1,360.5L90.8,365.6L86.1,370.7L81.4,365.6ZM87.6,360.9L92.3,366.0L87.6,371.1L82.9,366.0ZM89.2,361.2L93.9,366.3L89.2,371.4L84.5,366.3ZM90.8,361.4L95.5,366.5L90.8,371.6L86.1,366.5ZM92.4,361.0L97.1,366.1L92.4,371.2L87.7,366.1ZM94.1,360.6L98.8,365.7L94.1,370.8L89.4,365.7ZM95.8,360.6L100.5,365.7L95.8,370.8L91.1,365.7ZM97.5,361.0L102.2,366.1L97.5,371.2L92.8,366.1ZM99.3,361.2L104.0,366.3L99.3,371.4L94.6,366.3ZM101.1,361.2L105.8,366.3L101.1,371.4L96.4,366.3ZM102.9,360.9L107.6,366.0L102.9,371.1L98.2,366.0ZM104.8,361.1L109.5,366.2L104.8,371.3L100.1,366.2ZM106.8,360.8L111.5,365.9L106.8,371.0L102.1,365.9ZM108.8,360.9L113.5,366.0L108.8,371.1L104.1,366.0ZM110.8,360.7L115.5,365.8L110.8,370.9L106.1,365.8ZM112.9,361.3L117.6,366.4L112.9,371.5L108.2,366.4ZM115.1,361.3L119.8,366.4L115.1,371.5L110.4,366.4ZM117.3,361.7L122.0,366.8L117.3,371.9L112.6,366.8ZM119.5,361.9L124.2,367.0L119.5,372.1L114.8,367.0ZM121.9,362.1L126.6,367.2L121.9,372.3L117.2,367.2ZM124.2,361.9L128.9,367.0L124.2,372.1L119.5,367.0ZM126.7,361.7L131.4,366.8L126.7,371.9L122.0,366.8ZM129.2,361.9L133.9,367.0L129.2,372.1L124.5,367.0ZM131.8,361.9L136.5,367.0L131.8,372.1L127.1,367.0ZM134.4,362.1L139.1,367.2L134.4,372.3L129.7,367.2ZM137.1,362.7L141.8,367.8L137.1,372.9L132.4,367.8ZM140.0,363.0L144.7,368.1L140.0,373.2L135.3,368.1ZM142.8,363.0L147.5,368.1L142.8,373.2L138.1,368.1ZM145.8,362.4L150.5,367.5L145.8,372.6L141.1,367.5ZM148.9,362.7L153.6,367.8L148.9,372.9L144.2,367.8ZM152.0,362.6L156.7,367.7L152.0,372.8L147.3,367.7ZM155.3,362.8L160.0,367.9L155.3,373.0L150.6,367.9ZM158.6,363.2L163.3,368.3L158.6,373.4L153.9,368.3ZM162.1,363.5L166.8,368.6L162.1,373.7L157.4,368.6ZM165.7,364.3L170.4,369.4L165.7,374.5L161.0,369.4ZM170.3,364.1L175.0,369.2L170.3,374.3L165.6,369.2ZM181.6,365.7L186.3,370.8L181.6,375.9L176.9,370.8ZM193.5,367.0L198.2,372.1L193.5,377.2L188.8,372.1ZM205.7,368.0L210.4,373.1L205.7,378.2L201.0,373.1ZM218.5,368.6L223.2,373.7L218.5,378.8L213.8,373.7ZM232.1,369.6L236.8,374.7L232.1,379.8L227.4,374.7ZM277.4,373.9L282.1,379.0L277.4,384.1L272.7,379.0ZM293.7,371.2L298.4,376.3L293.7,381.4L289.0,376.3ZM329.0,376.1L333.7,381.2L329.0,386.3L324.3,381.2ZM389.2,378.1L393.9,383.2L389.2,388.3L384.5,383.2ZM458.3,376.1L463.0,381.2L458.3,386.3L453.6,381.2Z" stroke="#ff0000" stroke-width="1.7" fill="none" stroke-linejoin="round" stroke-linecap="round"/>
<path d="M53.5,383.6L54.9,386.5L58.1,387.0L55.8,389.2L56.3,392.3L53.5,390.8L50.7,392.3L51.2,389.2L48.9,387.0L52.1,386.5ZM54.4,383.3L55.8,386.1L59.0,386.6L56.7,388.8L57.2,391.9L54.4,390.5L51.6,391.9L52.1,388.8L49.8,386.6L53.0,386.1ZM55.3,383.3L56.7,386.1L59.9,386.6L57.6,388.8L58.2,392.0L55.3,390.5L52.5,392.0L53.0,388.8L50.8,386.6L53.9,386.1ZM56.3,383.3L57.7,386.2L60.8,386.6L58.6,388.9L59.1,392.0L56.3,390.5L53.4,392.0L54.0,388.9L51.7,386.6L54.9,386.2ZM57.2,382.7L58.6,385.5L61.8,386.0L59.5,388.2L60.0,391.3L57.2,389.9L54.4,391.3L54.9,388.2L52.7,386.0L55.8,385.5ZM58.2,381.7L59.6,384.6L62.8,385.0L60.5,387.3L61.0,390.4L58.2,388.9L55.4,390.4L55.9,387.3L53.6,385.0L56.8,384.6ZM59.2,380.9L60.6,383.8L63.7,384.3L61.5,386.5L62.0,389.6L59.2,388.1L56.4,389.6L56.9,386.5L54.6,384.3L57.8,383.8ZM60.2,380.7L61.6,383.6L64.7,384.0L62.5,386.3L63.0,389.4L60.2,387.9L57.4,389.4L57.9,386.3L55.6,384.0L58.8,383.6ZM61.2,380.4L62.6,383.3L65.8,383.7L63.5,385.9L64.0,389.1L61.2,387.6L58.4,389.1L58.9,385.9L56.6,383.7L59.8,383.3ZM62.2,380.1L63.7,382.9L66.8,383.4L64.5,385.6L65.1,388.8L62.2,387.3L59.4,388.8L60.0,385.6L57.7,383.4L60.8,382.9ZM63.3,379.6L64.7,382.4L67.9,382.9L65.6,385.1L66.1,388.3L63.3,386.8L60.5,388.3L61.0,385.1L58.7,382.9L61.9,382.4ZM64.4,379.1L65.8,381.9L68.9,382.4L66.7,384.6L67.2,387.7L64.4,386.3L61.6,387.7L62.1,384.6L59.8,382.4L63.0,381.9ZM65.5,378.5L66.9,381.4L70.0,381.8L67.8,384.0L68.3,387.2L65.5,385.7L62.7,387.2L63.2,384.0L60.9,381.8L64.1,381.4ZM66.6,378.0L68.0,380.8L71.2,381.3L68.9,383.5L69.4,386.7L66.6,385.2L63.8,386.7L64.3,383.5L62.0,381.3L65.2,380.8ZM67.7,377.5L69.1,380.4L72.3,380.8L70.0,383.0L70.5,386.2L67.7,384.7L64.9,386.2L65.4,383.0L63.2,380.8L66.3,380.4ZM68.9,377.1L70.3,380.0L73.4,380.4L71.2,382.6L71.7,385.8L68.9,384.3L66.1,385.8L66.6,382.6L64.3,380.4L67.5,380.0ZM70.1,376.9L71.5,379.8L74.6,380.2L72.3,382.5L72.9,385.6L70.1,384.1L67.2,385.6L67.8,382.5L65.5,380.2L68.6,379.8ZM71.3,376.5L72.7,379.4L75.8,379.8L73.5,382.1L74.1,385.2L71.3,383.7L68.4,385.2L69.0,382.1L66.7,379.8L69.8,379.4ZM72.5,375.9L73.9,378.7L77.0,379.2L74.8,381.4L75.3,384.6L72.5,383.1L69.7,384.6L70.2,381.4L67.9,379.2L71.1,378.7ZM73.7,374.6L75.1,377.4L78.3,377.9L76.0,380.1L76.5,383.2L73.7,381.8L70.9,383.2L71.4,380.1L69.2,377.9L72.3,377.4ZM75.0,373.9L76.4,376.8L79.6,377.3L77.3,379.5L77.8,382.6L75.0,381.1L72.2,382.6L72.7,379.5L70.4,377.3L73.6,376.8ZM76.3,372.9L77.7,375.8L80.9,376.3L78.6,378.5L79.1,381.6L76.3,380.1L73.5,381.6L74.0,378.5L71.7,376.3L74.9,375.8ZM77.6,372.4L79.0,375.3L82.2,375.7L79.9,378.0L80.4,381.1L77.6,379.6L74.8,381.1L75.3,378.0L73.0,375.7L76.2,375.3ZM79.0,371.9L80.4,374.8L83.5,375.2L81.2,377.5L81.8,380.6L79.0,379.1L76.1,380.6L76.7,377.5L74.4,375.2L77.5,374.8ZM80.3,371.9L81.7,374.7L84.9,375.2L82.6,377.4L83.2,380.6L80.3,379.1L77.5,380.6L78.1,377.4L75.8,375.2L78.9,374.7ZM81.7,371.5L83.1,374.4L86.3,374.9L84.0,377.1L84.6,380.2L81.7,378.7L78.9,380.2L79.5,377.1L77.2,374.9L80.3,374.4ZM83.2,370.4L84.6,373.2L87.7,373.7L85.4,375.9L86.0,379.1L83.2,377.6L80.3,379.1L80.9,375.9L78.6,373.7L81.8,373.2ZM84.6,369.5L86.0,372.4L89.2,372.8L86.9,375.1L87.4,378.2L84.6,376.7L81.8,378.2L82.3,375.1L80.1,372.8L83.2,372.4ZM86.1,368.8L87.5,371.6L90.7,372.1L88.4,374.3L88.9,377.4L86.1,376.0L83.3,377.4L83.8,374.3L81.6,372.1L84.7,371.6ZM87.6,368.6L89.1,371.5L92.2,371.9L89.9,374.1L90.5,377.3L87.6,375.8L84.8,377.3L85.4,374.1L83.1,371.9L86.2,371.5ZM89.2,368.5L90.6,371.4L93.8,371.8L91.5,374.0L92.0,377.2L89.2,375.7L86.4,377.2L86.9,374.0L84.6,371.8L87.8,371.4ZM90.8,368.0L92.2,370.9L95.3,371.3L93.1,373.6L93.6,376.7L90.8,375.2L88.0,376.7L88.5,373.6L86.2,371.3L89.4,370.9ZM92.4,367.0L93.8,369.9L97.0,370.3L94.7,372.6L95.2,375.7L92.4,374.2L89.6,375.7L90.1,372.6L87.8,370.3L91.0,369.9ZM94.1,365.6L95.5,368.4L98.6,368.9L96.3,371.1L96.9,374.3L94.1,372.8L91.2,374.3L91.8,371.1L89.5,368.9L92.7,368.4ZM95.8,364.8L97.2,367.7L100.3,368.1L98.0,370.4L98.6,373.5L95.8,372.0L92.9,373.5L93.5,370.4L91.2,368.1L94.4,367.7ZM97.5,364.2L98.9,367.1L102.1,367.5L99.8,369.8L100.3,372.9L97.5,371.4L94.7,372.9L95.2,369.8L92.9,367.5L96.1,367.1ZM99.3,363.5L100.7,366.3L103.8,366.8L101.6,369.0L102.1,372.2L99.3,370.7L96.5,372.2L97.0,369.0L94.7,366.8L97.9,366.3ZM101.1,362.8L102.5,365.6L105.7,366.1L103.4,368.3L103.9,371.5L101.1,370.0L98.3,371.5L98.8,368.3L96.5,366.1L99.7,365.6ZM102.9,361.8L104.4,364.7L107.5,365.1L105.2,367.3L105.8,370.5L102.9,369.0L100.1,370.5L100.7,367.3L98.4,365.1L101.5,364.7ZM104.8,361.5L106.3,364.4L109.4,364.8L107.1,367.0L107.7,370.2L104.8,368.7L102.0,370.2L102.6,367.0L100.3,364.8L103.4,364.4ZM106.8,360.9L108.2,363.8L111.4,364.2L109.1,366.5L109.6,369.6L106.8,368.1L104.0,369.6L104.5,366.5L102.2,364.2L105.4,363.8ZM108.8,360.6L110.2,363.4L113.4,363.9L111.1,366.1L111.6,369.3L108.8,367.8L106.0,369.3L106.5,366.1L104.2,363.9L107.4,363.4ZM110.8,359.4L112.2,362.3L115.4,362.7L113.1,365.0L113.7,368.1L110.8,366.6L108.0,368.1L108.6,365.0L106.3,362.7L109.4,362.3ZM112.9,358.5L114.3,361.3L117.5,361.8L115.2,364.0L115.8,367.1L112.9,365.7L110.1,367.1L110.6,364.0L108.4,361.8L111.5,361.3ZM115.1,357.4L116.5,360.2L119.6,360.7L117.4,362.9L117.9,366.0L115.1,364.6L112.3,366.0L112.8,362.9L110.5,360.7L113.7,360.2ZM117.3,356.5L118.7,359.4L121.8,359.8L119.6,362.0L120.1,365.2L117.3,363.7L114.5,365.2L115.0,362.0L112.7,359.8L115.9,359.4ZM119.5,355.4L121.0,358.3L124.1,358.7L121.8,361.0L122.4,364.1L119.5,362.6L116.7,364.1L117.3,361.0L115.0,358.7L118.1,358.3ZM121.9,354.3L123.3,357.1L126.4,357.6L124.1,359.8L124.7,363.0L121.9,361.5L119.0,363.0L119.6,359.8L117.3,357.6L120.4,357.1ZM124.2,353.1L125.6,356.0L128.8,356.4L126.5,358.7L127.1,361.8L124.2,360.3L121.4,361.8L122.0,358.7L119.7,356.4L122.8,356.0ZM126.7,352.4L128.1,355.3L131.2,355.7L129.0,358.0L129.5,361.1L126.7,359.6L123.9,361.1L124.4,358.0L122.1,355.7L125.3,355.3ZM129.2,351.7L130.6,354.6L133.8,355.0L131.5,357.2L132.0,360.4L129.2,358.9L126.4,360.4L126.9,357.2L124.6,355.0L127.8,354.6ZM131.8,351.1L133.2,353.9L136.3,354.4L134.1,356.6L134.6,359.8L131.8,358.3L128.9,359.8L129.5,356.6L127.2,354.4L130.4,353.9ZM134.4,350.1L135.8,353.0L139.0,353.4L136.7,355.7L137.2,358.8L134.4,357.3L131.6,358.8L132.1,355.7L129.9,353.4L133.0,353.0ZM137.1,348.8L138.6,351.6L141.7,352.1L139.4,354.3L140.0,357.4L137.1,356.0L134.3,357.4L134.9,354.3L132.6,352.1L135.7,351.6ZM140.0,347.5L141.4,350.4L144.5,350.8L142.2,353.0L142.8,356.2L140.0,354.7L137.1,356.2L137.7,353.0L135.4,350.8L138.5,350.4ZM142.8,346.2L144.3,349.1L147.4,349.5L145.1,351.8L145.7,354.9L142.8,353.4L140.0,354.9L140.6,351.8L138.3,349.5L141.4,349.1ZM145.8,345.6L147.2,348.4L150.4,348.9L148.1,351.1L148.6,354.2L145.8,352.8L143.0,354.2L143.5,351.1L141.2,348.9L144.4,348.4ZM148.9,344.5L150.3,347.3L153.4,347.8L151.2,350.0L151.7,353.2L148.9,351.7L146.1,353.2L146.6,350.0L144.3,347.8L147.5,347.3ZM152.0,343.5L153.4,346.3L156.6,346.8L154.3,349.0L154.9,352.2L152.0,350.7L149.2,352.2L149.7,349.0L147.5,346.8L150.6,346.3ZM155.3,342.2L156.7,345.1L159.9,345.5L157.6,347.8L158.1,350.9L155.3,349.4L152.5,350.9L153.0,347.8L150.7,345.5L153.9,345.1ZM158.6,340.8L160.1,343.7L163.2,344.1L160.9,346.4L161.5,349.5L158.6,348.0L155.8,349.5L156.4,346.4L154.1,344.1L157.2,343.7ZM162.1,339.2L163.5,342.0L166.7,342.5L164.4,344.7L164.9,347.8L162.1,346.4L159.3,347.8L159.8,344.7L157.5,342.5L160.7,342.0ZM165.7,338.0L167.1,340.9L170.2,341.4L168.0,343.6L168.5,346.7L165.7,345.2L162.9,346.7L163.4,343.6L161.1,341.4L164.3,340.9ZM170.3,336.7L171.7,339.6L174.9,340.0L172.6,342.2L173.1,345.4L170.3,343.9L167.5,345.4L168.0,342.2L165.7,340.0L168.9,339.6ZM181.6,335.1L183.0,338.0L186.2,338.4L183.9,340.6L184.4,343.8L181.6,342.3L178.8,343.8L179.3,340.6L177.0,338.4L180.2,338.0ZM193.5,333.1L194.9,336.0L198.1,336.4L195.8,338.6L196.3,341.8L193.5,340.3L190.7,341.8L191.2,338.6L188.9,336.4L192.1,336.0ZM205.7,328.2L207.1,331.1L210.3,331.5L208.0,333.7L208.5,336.9L205.7,335.4L202.9,336.9L203.4,333.7L201.1,331.5L204.3,331.1ZM218.5,323.6L219.9,326.5L223.1,326.9L220.8,329.1L221.3,332.3L218.5,330.8L215.7,332.3L216.2,329.1L213.9,326.9L217.1,326.5ZM232.1,320.4L233.5,323.3L236.7,323.7L234.4,325.9L234.9,329.1L232.1,327.6L229.3,329.1L229.8,325.9L227.5,323.7L230.7,323.3ZM277.4,309.6L278.8,312.5L282.0,312.9L279.7,315.1L280.2,318.3L277.4,316.8L274.6,318.3L275.1,315.1L272.8,312.9L276.0,312.5ZM293.7,308.0L295.1,310.9L298.3,311.3L296.0,313.5L296.5,316.7L293.7,315.2L290.9,316.7L291.4,313.5L289.1,311.3L292.3,310.9ZM329.0,298.5L330.4,301.4L333.6,301.8L331.3,304.0L331.8,307.2L329.0,305.7L326.2,307.2L326.7,304.0L324.4,301.8L327.6,301.4ZM389.2,288.8L390.6,291.7L393.8,292.1L391.5,294.3L392.0,297.5L389.2,296.0L386.4,297.5L386.9,294.3L384.6,292.1L387.8,291.7ZM458.3,275.7L459.7,278.6L462.9,279.0L460.6,281.2L461.1,284.4L458.3,282.9L455.5,284.4L456.0,281.2L453.7,279.0L456.9,278.6Z" stroke="#00b800" stroke-width="1.8" fill="none" stroke-linejoin="round" stroke-linecap="round"/>
<path d="M53.50,357.60 L56.46,357.54 L59.42,357.48 L62.38,357.42 L65.34,357.37 L68.29,357.31 L71.25,357.25 L74.21,357.20 L77.17,357.14 L80.13,357.09 L83.09,357.04 L86.05,356.99 L89.01,356.94 L91.97,356.89 L94.93,356.84 L97.88,356.79 L100.84,356.74 L103.80,356.69 L106.76,356.65 L109.72,356.60 L112.68,356.56 L115.64,356.52 L118.60,356.48 L121.56,356.43 L124.52,356.39 L127.47,356.35 L130.43,356.31 L133.39,356.27 L136.35,356.24 L139.31,356.20 L142.27,356.16 L145.23,356.13 L148.19,356.09 L151.15,356.06 L154.11,356.02 L157.06,355.99 L160.02,355.95 L162.98,355.92 L165.94,355.89 L168.90,355.86 L171.86,355.83 L174.82,355.80 L177.78,355.77 L180.74,355.74 L183.70,355.72 L186.65,355.69 L189.61,355.66 L192.57,355.64 L195.53,355.61 L198.49,355.58 L201.45,355.56 L204.41,355.53 L207.37,355.51 L210.33,355.48 L213.29,355.46 L216.24,355.43 L219.20,355.40 L222.16,355.38 L225.12,355.35 L228.08,355.32 L231.04,355.29 L234.00,355.26 L236.96,355.23 L239.92,355.20 L242.88,355.17 L245.83,355.14 L248.79,355.10 L251.75,355.07 L254.71,355.04 L257.67,355.01 L260.63,354.98 L263.59,354.94 L266.55,354.91 L269.51,354.88 L272.47,354.85 L275.42,354.82 L278.38,354.79 L281.34,354.76 L284.30,354.73 L287.26,354.71 L290.22,354.68 L293.18,354.66 L296.14,354.63 L299.10,354.60 L302.06,354.57 L305.01,354.54 L307.97,354.51 L310.93,354.46 L313.89,354.42 L316.85,354.36 L319.81,354.29 L322.77,354.19 L325.73,354.08 L328.69,353.96 L331.65,353.82 L334.60,353.67 L337.56,353.51 L340.52,353.34 L343.48,353.17 L346.44,353.00 L349.40,352.83 L352.36,352.66 L355.32,352.47 L358.28,352.27 L361.24,352.05 L364.19,351.82 L367.15,351.59 L370.11,351.35 L373.07,351.11 L376.03,350.86 L378.99,350.62 L381.95,350.38 L384.91,350.14 L387.87,349.91 L390.83,349.69 L393.78,349.46 L396.74,349.24 L399.70,349.02 L402.66,348.80 L405.62,348.59 L408.58,348.37 L411.54,348.15 L414.50,347.93 L417.46,347.72 L420.42,347.50 L423.37,347.28 L426.33,347.07 L429.29,346.85 L432.25,346.64 L435.21,346.42 L438.17,346.21 L441.13,345.99 L444.09,345.78 L447.05,345.57 L450.01,345.36 L452.96,345.14 L455.92,344.93 L458.88,344.72 L461.84,344.51 L464.80,344.30" stroke="#4d4d4d" stroke-width="1.65" fill="none"/>
<path d="M53.50,365.60 L55.41,365.60 L57.31,365.61 L59.22,365.61 L61.13,365.62 L63.03,365.63 L64.94,365.64 L66.85,365.66 L68.75,365.68 L70.66,365.70 L72.57,365.72 L74.47,365.74 L76.38,365.77 L78.29,365.79 L80.19,365.82 L82.10,365.85 L84.01,365.88 L85.92,365.91 L87.82,365.95 L89.73,365.98 L91.64,366.02 L93.54,366.05 L95.45,366.09 L97.36,366.13 L99.26,366.17 L101.17,366.21 L103.08,366.25 L104.98,366.29 L106.89,366.33 L108.80,366.37 L110.70,366.42 L112.61,366.46 L114.52,366.52 L116.42,366.58 L118.33,366.64 L120.24,366.71 L122.14,366.79 L124.05,366.87 L125.96,366.95 L127.86,367.03 L129.77,367.12 L131.68,367.21 L133.58,367.30 L135.49,367.39 L137.40,367.48 L139.31,367.57 L141.21,367.66 L143.12,367.75 L145.03,367.84 L146.93,367.93 L148.84,368.03 L150.75,368.13 L152.65,368.23 L154.56,368.33 L156.47,368.44 L158.37,368.55 L160.28,368.66 L162.19,368.78 L164.09,368.90 L166.00,369.02" stroke="#900096" stroke-width="1.8" fill="none" stroke-dasharray="7.32,4.28" stroke-dashoffset="0.40"/>
<path d="M166.00,369.02 L168.74,369.21 L171.48,369.41 L174.22,369.63 L176.97,369.88 L179.71,370.14 L182.45,370.41 L185.19,370.69 L187.93,370.98 L190.67,371.27 L193.41,371.55 L196.15,371.83 L198.90,372.10 L201.64,372.35 L204.38,372.60 L207.12,372.85 L209.86,373.10 L212.60,373.34 L215.34,373.59 L218.08,373.83 L220.83,374.07 L223.57,374.30 L226.31,374.54 L229.05,374.77 L231.79,375.00 L234.53,375.23 L237.27,375.46 L240.01,375.69 L242.76,375.93 L245.50,376.16 L248.24,376.39 L250.98,376.62 L253.72,376.84 L256.46,377.07 L259.20,377.29 L261.94,377.50 L264.69,377.71 L267.43,377.92 L270.17,378.11 L272.91,378.30 L275.65,378.49 L278.39,378.66 L281.13,378.83 L283.88,378.99 L286.62,379.14 L289.36,379.29 L292.10,379.44 L294.84,379.58 L297.58,379.72 L300.32,379.86 L303.06,380.00 L305.81,380.13 L308.55,380.27 L311.29,380.41 L314.03,380.55 L316.77,380.69 L319.51,380.84 L322.25,380.99 L324.99,381.14 L327.74,381.29 L330.48,381.44 L333.22,381.59 L335.96,381.74 L338.70,381.88 L341.44,382.01 L344.18,382.15 L346.92,382.27 L349.67,382.39 L352.41,382.50 L355.15,382.61 L357.89,382.72 L360.63,382.84 L363.37,382.95 L366.11,383.06 L368.86,383.16 L371.60,383.26 L374.34,383.35 L377.08,383.44 L379.82,383.51 L382.56,383.58 L385.30,383.64 L388.04,383.68 L390.79,383.72 L393.53,383.75 L396.27,383.78 L399.01,383.81 L401.75,383.84 L404.49,383.87 L407.23,383.89 L409.97,383.91 L412.72,383.93 L415.46,383.95 L418.20,383.97 L420.94,383.98 L423.68,383.99 L426.42,384.00 L429.16,384.00 L431.90,384.00 L434.65,383.99 L437.39,383.98 L440.13,383.96 L442.87,383.94 L445.61,383.91 L448.35,383.88 L451.09,383.84 L453.83,383.80 L456.58,383.75 L459.32,383.71 L462.06,383.65 L464.80,383.60" stroke="#900096" stroke-width="1.8" fill="none" stroke-dasharray="7.00,4.10" stroke-dashoffset="3.60"/>
<path d="M53.50,388.90 L55.41,388.00 L57.31,387.10 L59.22,386.21 L61.13,385.32 L63.03,384.44 L64.94,383.56 L66.85,382.69 L68.75,381.82 L70.66,380.95 L72.57,380.10 L74.47,379.24 L76.38,378.39 L78.29,377.55 L80.19,376.71 L82.10,375.88 L84.01,375.05 L85.92,374.23 L87.82,373.41 L89.73,372.60 L91.64,371.79 L93.54,370.98 L95.45,370.18 L97.36,369.38 L99.26,368.59 L101.17,367.80 L103.08,367.01 L104.98,366.23 L106.89,365.46 L108.80,364.69 L110.70,363.92 L112.61,363.15 L114.52,362.39 L116.42,361.64 L118.33,360.89 L120.24,360.14 L122.14,359.40 L124.05,358.66 L125.96,357.93 L127.86,357.19 L129.77,356.46 L131.68,355.74 L133.58,355.02 L135.49,354.29 L137.40,353.58 L139.31,352.86 L141.21,352.15 L143.12,351.43 L145.03,350.70 L146.93,349.98 L148.84,349.26 L150.75,348.54 L152.65,347.82 L154.56,347.11 L156.47,346.40 L158.37,345.70 L160.28,345.01 L162.19,344.33 L164.09,343.67 L166.00,343.02" stroke="#0e4e0e" stroke-width="1.8" fill="none" stroke-dasharray="7.87,2.91,1.33,2.79" stroke-dashoffset="12.67"/>
<path d="M166.00,343.02 L168.74,342.11 L171.48,341.23 L174.22,340.38 L176.97,339.56 L179.71,338.76 L182.45,337.98 L185.19,337.21 L187.93,336.46 L190.67,335.71 L193.41,334.97 L196.15,334.24 L198.90,333.54 L201.64,332.84 L204.38,332.14 L207.12,331.43 L209.86,330.70 L212.60,329.96 L215.34,329.22 L218.08,328.47 L220.83,327.73 L223.57,327.00 L226.31,326.28 L229.05,325.58 L231.79,324.90 L234.53,324.24 L237.27,323.60 L240.01,322.96 L242.76,322.33 L245.50,321.72 L248.24,321.11 L250.98,320.50 L253.72,319.91 L256.46,319.31 L259.20,318.72 L261.94,318.13 L264.69,317.55 L267.43,316.96 L270.17,316.37 L272.91,315.78 L275.65,315.18 L278.39,314.58 L281.13,313.98 L283.88,313.37 L286.62,312.76 L289.36,312.15 L292.10,311.54 L294.84,310.93 L297.58,310.31 L300.32,309.70 L303.06,309.10 L305.81,308.49 L308.55,307.89 L311.29,307.30 L314.03,306.70 L316.77,306.12 L319.51,305.54 L322.25,304.97 L324.99,304.41 L327.74,303.85 L330.48,303.31 L333.22,302.77 L335.96,302.24 L338.70,301.72 L341.44,301.20 L344.18,300.68 L346.92,300.18 L349.67,299.67 L352.41,299.17 L355.15,298.67 L357.89,298.18 L360.63,297.69 L363.37,297.20 L366.11,296.71 L368.86,296.23 L371.60,295.74 L374.34,295.26 L377.08,294.77 L379.82,294.29 L382.56,293.80 L385.30,293.31 L388.04,292.83 L390.79,292.33 L393.53,291.85 L396.27,291.36 L399.01,290.87 L401.75,290.39 L404.49,289.91 L407.23,289.43 L409.97,288.95 L412.72,288.47 L415.46,287.99 L418.20,287.50 L420.94,287.02 L423.68,286.53 L426.42,286.04 L429.16,285.55 L431.90,285.06 L434.65,284.56 L437.39,284.06 L440.13,283.56 L442.87,283.06 L445.61,282.56 L448.35,282.05 L451.09,281.55 L453.83,281.04 L456.58,280.53 L459.32,280.02 L462.06,279.51 L464.80,279.00" stroke="#0e4e0e" stroke-width="1.8" fill="none" stroke-dasharray="6.50,2.40,1.10,2.30" stroke-dashoffset="8.36"/>
</g>
<path d="M75.74,27.00V32.50 M75.74,227.20V238.20 M75.74,433.20V438.70 M97.98,27.00V32.50 M97.98,227.20V238.20 M97.98,433.20V438.70 M120.22,27.00V32.50 M120.22,227.20V238.20 M120.22,433.20V438.70 M142.46,27.00V32.50 M142.46,227.20V238.20 M142.46,433.20V438.70 M164.70,27.00V37.00 M164.70,222.70V242.70 M164.70,428.70V438.70 M186.94,27.00V32.50 M186.94,227.20V238.20 M186.94,433.20V438.70 M209.18,27.00V32.50 M209.18,227.20V238.20 M209.18,433.20V438.70 M231.42,27.00V32.50 M231.42,227.20V238.20 M231.42,433.20V438.70 M253.66,27.00V32.50 M253.66,227.20V238.20 M253.66,433.20V438.70 M275.90,27.00V37.00 M275.90,222.70V242.70 M275.90,428.70V438.70 M298.14,27.00V32.50 M298.14,227.20V238.20 M298.14,433.20V438.70 M320.38,27.00V32.50 M320.38,227.20V238.20 M320.38,433.20V438.70 M342.62,27.00V32.50 M342.62,227.20V238.20 M342.62,433.20V438.70 M364.86,27.00V32.50 M364.86,227.20V238.20 M364.86,433.20V438.70 M387.10,27.00V37.00 M387.10,222.70V242.70 M387.10,428.70V438.70 M409.34,27.00V32.50 M409.34,227.20V238.20 M409.34,433.20V438.70 M431.58,27.00V32.50 M431.58,227.20V238.20 M431.58,433.20V438.70 M453.82,27.00V32.50 M453.82,227.20V238.20 M453.82,433.20V438.70 M53.50,43.60H59.00 M459.30,43.60H464.80 M53.50,64.70H59.00 M459.30,64.70H464.80 M53.50,85.80H59.00 M459.30,85.80H464.80 M53.50,106.90H63.50 M454.80,106.90H464.80 M53.50,128.00H59.00 M459.30,128.00H464.80 M53.50,149.10H59.00 M459.30,149.10H464.80 M53.50,170.20H59.00 M459.30,170.20H464.80 M53.50,191.30H63.50 M454.80,191.30H464.80 M53.50,212.40H59.00 M459.30,212.40H464.80 M53.50,253.10H59.00 M459.30,253.10H464.80 M53.50,273.70H63.50 M454.80,273.70H464.80 M53.50,294.30H59.00 M459.30,294.30H464.80 M53.50,314.90H59.00 M459.30,314.90H464.80 M53.50,335.50H59.00 M459.30,335.50H464.80 M53.50,356.10H63.50 M454.80,356.10H464.80 M53.50,376.70H59.00 M459.30,376.70H464.80 M53.50,397.30H59.00 M459.30,397.30H464.80 M53.50,417.90H59.00 M459.30,417.90H464.80" stroke="#000" stroke-width="1.6" fill="none"/>
<rect x="53.5" y="27.0" width="411.3" height="411.7" fill="none" stroke="#000" stroke-width="1.7"/>
<path d="M53.50,232.70H464.80" stroke="#000" stroke-width="1.7" fill="none"/>
<path d="M70.1,263.5H103.4" stroke="#4d4d4d" stroke-width="1.4" fill="none"/>
<path d="M70.1,284.2H103.4" stroke="#900096" stroke-width="1.8" fill="none" stroke-dasharray="6.8,4.7"/>
<path d="M70.1,304.8H103.4" stroke="#0e4e0e" stroke-width="1.8" fill="none" stroke-dasharray="1,2.7,6.7,2.4"/>
<path d="M109.9,263.7H119.1M114.5,259.1V268.3" stroke="#000000" stroke-width="1.5" fill="none" stroke-linejoin="miter" stroke-linecap="round"/>
<path d="M114.5,279.2L119.2,284.3L114.5,289.4L109.8,284.3Z" stroke="#ff0000" stroke-width="1.7" fill="none" stroke-linejoin="round" stroke-linecap="round"/>
<path d="M114.5,300.1L115.9,303.0L119.1,303.4L116.8,305.6L117.3,308.8L114.5,307.3L111.7,308.8L112.2,305.6L109.9,303.4L113.1,303.0Z" stroke="#00b800" stroke-width="1.8" fill="none" stroke-linejoin="round" stroke-linecap="round"/>
<text x="132.2" y="268.0" font-family="Liberation Serif, serif" font-weight="bold" stroke="#000" stroke-width="0.35" font-size="14.4" textLength="34.8" lengthAdjust="spacingAndGlyphs">ΛCDM</text>
<text x="132.2" y="288.7" font-family="Liberation Serif, serif" font-weight="bold" font-size="14.4" textLength="49.0" lengthAdjust="spacingAndGlyphs">EXP<tspan font-family="Liberation Sans, sans-serif" font-size="13.8">003</tspan></text>
<text x="132.2" y="309.2" font-family="Liberation Serif, serif" font-weight="bold" font-size="14.4" textLength="68.4" lengthAdjust="spacingAndGlyphs">SUGRA<tspan font-family="Liberation Sans, sans-serif" font-size="13.8">003</tspan></text>
<text x="48.75" y="19.1" font-family="Liberation Sans, sans-serif" stroke="#000" stroke-width="0.62" stroke-linejoin="round" font-size="16.0" textLength="9.5" lengthAdjust="spacingAndGlyphs">0</text>
<text x="48.75" y="458.7" font-family="Liberation Sans, sans-serif" stroke="#000" stroke-width="0.62" stroke-linejoin="round" font-size="16.0" textLength="9.5" lengthAdjust="spacingAndGlyphs">0</text>
<text x="164.90" y="19.0" font-family="Liberation Serif, serif" font-weight="bold" font-size="17.2" text-anchor="middle">1</text>
<text x="164.90" y="458.9" font-family="Liberation Serif, serif" font-weight="bold" font-size="17.2" text-anchor="middle">1</text>
<text x="271.15" y="19.1" font-family="Liberation Sans, sans-serif" stroke="#000" stroke-width="0.62" stroke-linejoin="round" font-size="16.0" textLength="9.5" lengthAdjust="spacingAndGlyphs">2</text>
<text x="271.15" y="458.7" font-family="Liberation Sans, sans-serif" stroke="#000" stroke-width="0.62" stroke-linejoin="round" font-size="16.0" textLength="9.5" lengthAdjust="spacingAndGlyphs">2</text>
<text x="382.35" y="19.1" font-family="Liberation Sans, sans-serif" stroke="#000" stroke-width="0.62" stroke-linejoin="round" font-size="16.0" textLength="9.5" lengthAdjust="spacingAndGlyphs">3</text>
<text x="382.35" y="458.7" font-family="Liberation Sans, sans-serif" stroke="#000" stroke-width="0.62" stroke-linejoin="round" font-size="16.0" textLength="9.5" lengthAdjust="spacingAndGlyphs">3</text>
<text x="45.4" y="129.4" font-family="Liberation Sans, sans-serif" stroke="#000" stroke-width="0.62" stroke-linejoin="round" font-size="16.0" textLength="46.2" lengthAdjust="spacingAndGlyphs" transform="rotate(-90 45.4 129.4)">−1.98</text>
<text x="45.4" y="200.7" font-family="Liberation Sans, sans-serif" stroke="#000" stroke-width="0.62" stroke-linejoin="round" font-size="16.0" textLength="24.4" lengthAdjust="spacingAndGlyphs" transform="rotate(-90 45.4 200.7)">−2</text>
<text x="45.4" y="285.8" font-family="Liberation Sans, sans-serif" stroke="#000" stroke-width="0.62" stroke-linejoin="round" font-size="16.0" textLength="25.4" lengthAdjust="spacingAndGlyphs" transform="rotate(-90 45.4 285.8)">0.2</text>
<text x="45.4" y="373.4" font-family="Liberation Sans, sans-serif" stroke="#000" stroke-width="0.62" stroke-linejoin="round" font-size="16.0" textLength="34.2" lengthAdjust="spacingAndGlyphs" transform="rotate(-90 45.4 373.4)">0.18</text>
<text x="45.4" y="455.8" font-family="Liberation Sans, sans-serif" stroke="#000" stroke-width="0.62" stroke-linejoin="round" font-size="16.0" textLength="34.2" lengthAdjust="spacingAndGlyphs" transform="rotate(-90 45.4 455.8)">0.16</text>
<text x="24.6" y="150.8" font-family="Liberation Serif, serif" stroke="#000" stroke-width="0.55" stroke-linejoin="round" font-size="17.0" textLength="50.6" lengthAdjust="spacingAndGlyphs" transform="rotate(-90 24.6 150.8)">Log(<tspan font-style="italic" font-weight="bold">κ</tspan>)</text>
<g transform="rotate(-90 24 344)"><text x="24" y="344.3" font-family="Liberation Serif, serif" stroke="#000" stroke-width="0.55" stroke-linejoin="round" font-size="15.5">f</text><text x="31.0" y="350.0" font-family="Liberation Sans, sans-serif" font-weight="bold" font-size="9.6" textLength="16.6" lengthAdjust="spacingAndGlyphs">bar</text></g>
<text x="225.4" y="482.2" font-family="Liberation Serif, serif" stroke="#000" stroke-width="0.55" stroke-linejoin="round" font-size="16.8" textLength="67.8" lengthAdjust="spacingAndGlyphs">Redshift</text>
</svg>
</body></html>
